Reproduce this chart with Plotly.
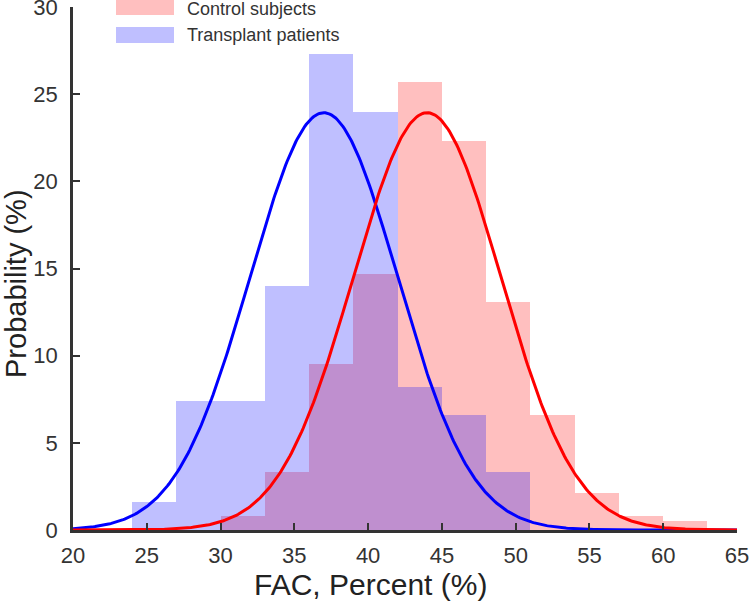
import numpy as np
import plotly.graph_objects as go

# ---- data ----
bin_width = 3
control_bin_left = [30, 33, 36, 39, 42, 45, 48, 51, 54, 57, 60]
control_prob = [0.8, 3.3, 9.5, 14.7, 25.7, 22.3, 13.1, 6.6, 2.1, 0.8, 0.5]
transplant_bin_left = [24, 27, 30, 33, 36, 39, 42, 45, 48]
transplant_prob = [1.6, 7.4, 7.4, 14.0, 27.3, 24.0, 8.2, 6.6, 3.3]

# fitted normal curves (mean, sd) scaled to % per bin
control_mean, control_sd = 44.0, 5.0
transplant_mean, transplant_sd = 37.0, 5.0

x_ticks = [20, 25, 30, 35, 40, 45, 50, 55, 60, 65]
y_ticks = [0, 5, 10, 15, 20, 25, 30]

series_names = ["Control subjects", "Transplant patients"]


def normal_curve(xs, mu, sd):
    return 100 * bin_width * np.exp(-0.5 * ((xs - mu) / sd) ** 2) / (sd * np.sqrt(2 * np.pi))


xs = np.linspace(20, 65, 451)

RED_FILL = "rgba(255,0,0,0.25)"
BLUE_FILL = "rgba(0,0,255,0.25)"
FONT = "Liberation Sans, Arial, Helvetica, sans-serif"

fig = go.Figure()
fig.add_trace(go.Bar(
    x=[b + bin_width / 2 for b in control_bin_left], y=control_prob, width=bin_width,
    marker=dict(color=RED_FILL, line=dict(width=0)), name=series_names[0], showlegend=False))
fig.add_trace(go.Bar(
    x=[b + bin_width / 2 for b in transplant_bin_left], y=transplant_prob, width=bin_width,
    marker=dict(color=BLUE_FILL, line=dict(width=0)), name=series_names[1], showlegend=False))
fig.add_trace(go.Scatter(
    x=xs, y=normal_curve(xs, transplant_mean, transplant_sd), mode="lines",
    line=dict(color="#0000ff", width=3), showlegend=False, name="Transplant fit"))
fig.add_trace(go.Scatter(
    x=xs, y=normal_curve(xs, control_mean, control_sd), mode="lines",
    line=dict(color="#ff0000", width=3), showlegend=False, name="Control fit"))

L, R, T, B = 73, 13, 7, 72
W, H = 750, 602
pw, ph = W - L - R, H - T - B


def px_x(px):
    return (px - L) / pw


def px_y(py):
    return (H - B - py) / ph


# custom legend (wide swatches as in reference)
shapes = [
    dict(type="rect", xref="paper", yref="paper", x0=px_x(116), x1=px_x(174),
         y0=px_y(15), y1=px_y(0), fillcolor=RED_FILL, line=dict(width=0)),
    dict(type="rect", xref="paper", yref="paper", x0=px_x(116), x1=px_x(174),
         y0=px_y(43), y1=px_y(27), fillcolor=BLUE_FILL, line=dict(width=0)),
]
annotations = [
    dict(text=series_names[0], xref="paper", yref="paper", x=px_x(185), y=px_y(9),
         xanchor="left", yanchor="middle", showarrow=False, font=dict(size=18, color="#333", family=FONT)),
    dict(text=series_names[1], xref="paper", yref="paper", x=px_x(185), y=px_y(35),
         xanchor="left", yanchor="middle", showarrow=False, font=dict(size=18, color="#333", family=FONT)),
    dict(text="FAC, Percent (%)", xref="paper", yref="paper", x=px_x(370), y=px_y(584),
         xanchor="center", yanchor="middle", showarrow=False, font=dict(size=30, color="#222", family=FONT)),
    dict(text="Probability (%)", xref="paper", yref="paper", x=px_x(16), y=px_y(284),
         xanchor="center", yanchor="middle", textangle=-90, showarrow=False,
         font=dict(size=29, color="#222", family=FONT)),
]

fig.update_layout(
    width=W, height=H,
    margin=dict(l=L, r=R, t=T, b=B, pad=0),
    paper_bgcolor="white", plot_bgcolor="white",
    barmode="overlay", bargap=0,
    font=dict(family=FONT, color="#333"),
    shapes=shapes, annotations=annotations,
    xaxis=dict(range=[20, 65], tickvals=x_ticks, ticktext=[str(v) for v in x_ticks],
               ticks="inside", ticklen=7, tickwidth=2, tickcolor="#333",
               showline=True, linecolor="#333", linewidth=2.5, showgrid=False, zeroline=False,
               tickfont=dict(size=22, color="#333", family=FONT), ticklabelstandoff=4,
               ticklabeloverflow="allow", automargin=False),
    yaxis=dict(range=[0, 30], tickvals=y_ticks, ticktext=[str(v) for v in y_ticks],
               ticks="inside", ticklen=7, tickwidth=2, tickcolor="#333",
               showline=True, linecolor="#333", linewidth=2.5, showgrid=False, zeroline=False,
               tickfont=dict(size=22, color="#333", family=FONT), ticklabelstandoff=8,
               ticklabeloverflow="allow", automargin=False),
)

fig.write_html("out.html", config={"displayModeBar": False},
               post_script="document.body.style.margin='0';document.body.style.padding='0';")
